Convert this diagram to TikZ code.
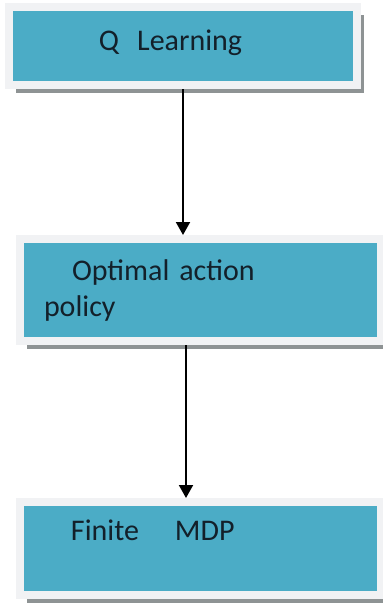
\documentclass[tikz,border=0pt]{standalone}
\usepackage{fontspec}
\setmainfont{Carlito}
\usepackage{tikz}
\usepackage{xcolor}
\usetikzlibrary{arrows.meta,positioning,shadows}
\definecolor{boxblue}{HTML}{4BACC6}
\definecolor{boxrim}{HTML}{F1F2F4}
\definecolor{boxshade}{HTML}{8E9394}
\definecolor{boxtext}{HTML}{13202A}
\tikzset{
  flowbox/.style = {
    rectangle,
    fill=boxblue,
    draw=boxrim,
    line width=8pt,
    inner xsep=0pt,
    inner ysep=0pt,
    align=left,
    text=boxtext,
    font=\fontsize{30}{36}\selectfont,
    drop shadow={shadow xshift=7pt, shadow yshift=-8pt, fill=boxshade, opacity=1}
  },
  flowarrow/.style = {
    -{Triangle[length=13pt,width=14pt]},
    line width=2pt,
    black
  }
}

\begin{document}
\begin{tikzpicture}[x=1pt,y=-1pt]
    \useasboundingbox (0,0) rectangle (383,606);
    \node[flowbox, minimum width=348pt, minimum height=78pt, text width=348pt, text depth=12pt] (qlearn) at (183,46)
      {\hspace*{90pt}Q\hspace{18pt}Learning};
    \node[flowbox, minimum width=361pt, minimum height=102pt, text width=361pt,
          below=146pt of qlearn, xshift=17.5pt] (policy)
      {\hspace*{52pt}Optimal action\\\hspace*{24pt}policy};
    \node[flowbox, minimum width=361pt, minimum height=93pt, text width=361pt,
          below=153pt of policy] (mdp)
      {\hspace*{51pt}Finite\hspace{36pt}MDP\\\mbox{}};
    \draw[flowarrow] (qlearn.south) -- (qlearn.south |- policy.north);
    \draw[flowarrow] ([xshift=-14.5pt]policy.south) -- ([xshift=-14.5pt]policy.south |- mdp.north);
  \end{tikzpicture}
\end{document}
